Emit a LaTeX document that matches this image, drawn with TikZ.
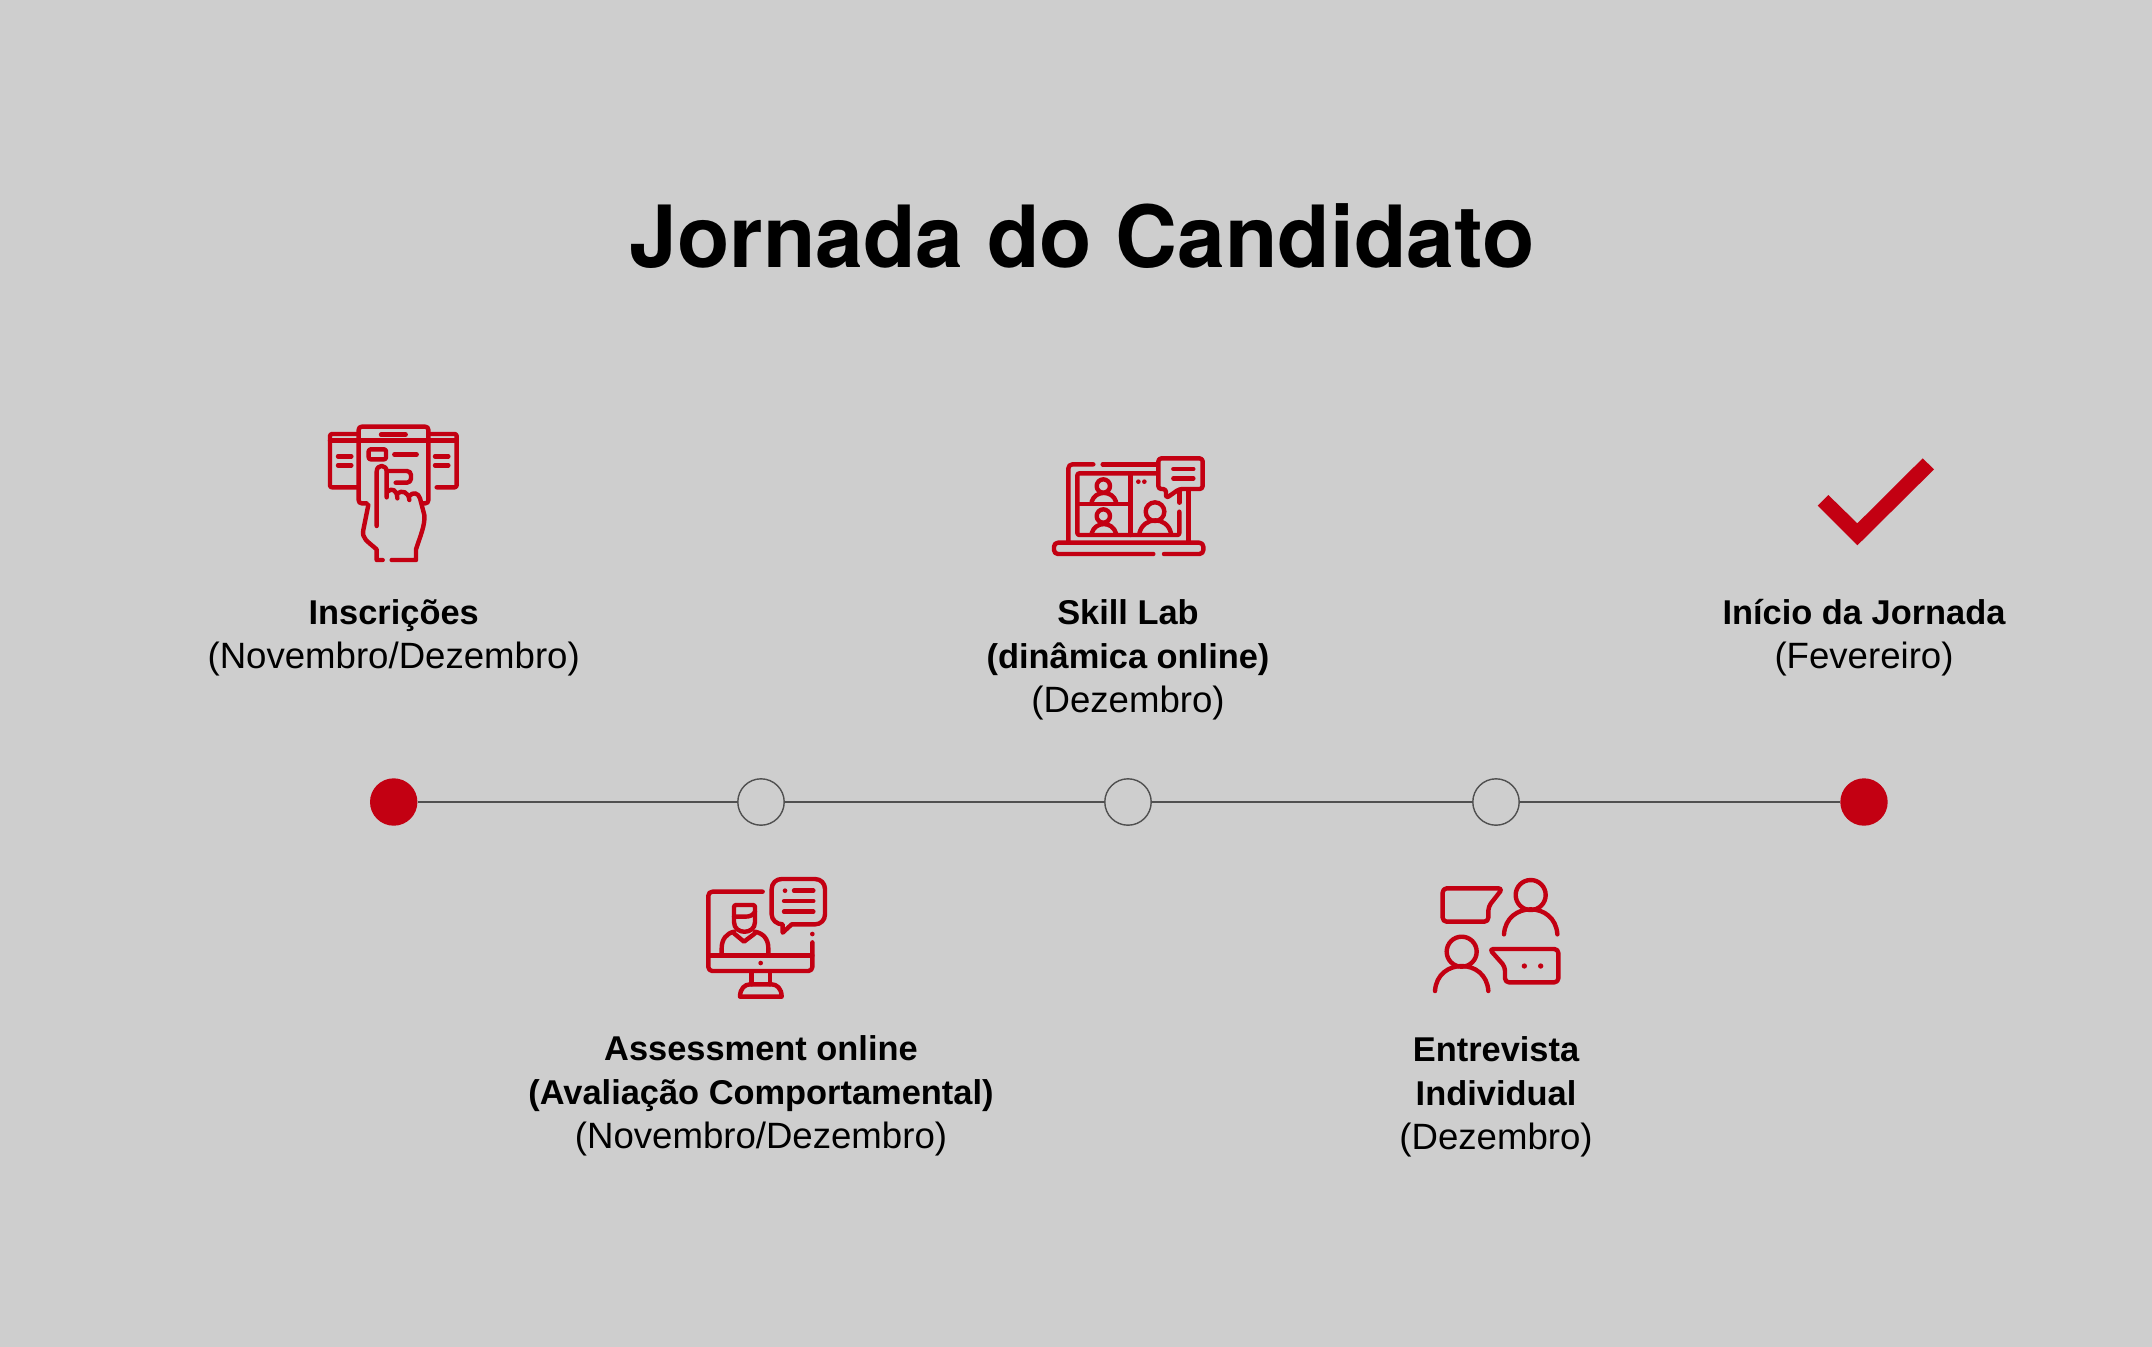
\documentclass[tikz,border=0pt]{standalone}
\usepackage{fontspec}
\setmainfont{Liberation Sans}
\newfontfamily\titlefont{TeX Gyre Heros}
\definecolor{bgc}{HTML}{CECECE}
\definecolor{redc}{HTML}{C30012}
\definecolor{linec}{HTML}{505050}
\newcommand\bt[1]{{\fontsize{17.2}{22}\selectfont\bfseries #1}}
\newcommand\fl{\rule{0pt}{17pt}}
\tikzset{
  px/.style={x=0.5pt,y=-0.5pt},
  icon/.style={shift={#1},x=0.16667pt,y=-0.16667pt,draw=redc,line width=2.2pt,line cap=round,line join=round},
  redpt/.style={circle,fill=redc,draw=none,minimum size=23.7pt,inner sep=0pt},
  holpt/.style={circle,draw=linec,line width=0.7pt,fill=none,minimum size=23.2pt,inner sep=0pt},
  conn/.style={draw=linec,line width=0.7pt},
  lab/.style={align=center,anchor=north,inner sep=0pt,font=\fontsize{18.3}{22}\selectfont},
  ttl/.style={anchor=center,inner sep=0pt,font=\titlefont\bfseries\fontsize{42.9}{50}\selectfont},
}
\begin{document}
\begin{tikzpicture}[px]
\useasboundingbox (0,0) rectangle (2152,1346);
\fill[bgc] (-6,-6) rectangle (2158,1352);
\node[ttl] (title) at (1082,236.5) {Jornada do Candidato};

% timeline
\node[redpt] (p1) at (393.7,802) {};
\node[holpt] (p2) at (761,802) {};
\node[holpt] (p3) at (1128,802) {};
\node[holpt] (p4) at (1496,802) {};
\node[redpt] (p5) at (1864,802) {};
\draw[conn] (p1) -- (p2);
\draw[conn] (p2) -- (p3);
\draw[conn] (p3) -- (p4);
\draw[conn] (p4) -- (p5);

% labels
\node[lab] (l1) at (393.7,590) {\fl\bt{Inscrições}\\(Novembro/Dezembro)};
\node[lab] (l3) at (1128,590) {\fl\bt{Skill Lab}\\\bt{(dinâmica online)}\\(Dezembro)};
\node[lab] (l5) at (1864,590) {\fl\bt{Início da Jornada}\\(Fevereiro)};
\node[lab] (l2) at (761,1026) {\fl\bt{Assessment online}\\\bt{(Avaliação Comportamental)}\\(Novembro/Dezembro)};
\node[lab] (l4) at (1496,1027) {\fl\bt{Entrevista}\\\bt{Individual}\\(Dezembro)};

% icon 1: form and hand
\begin{scope}[icon={(310,410)}]
\draw[rounded corners=1.5pt] (170,280) -- (146,280) -- (146,50) -- (355,50) -- (355,280) -- (335,280);
\draw (146,92) -- (355,92);
\draw[rounded corners=1pt] (146,72) -- (60,72) -- (60,232) -- (146,232);
\draw (60,92) -- (146,92);
\draw[rounded corners=1pt] (355,72) -- (440,72) -- (440,232) -- (380,232);
\draw (355,92) -- (440,92);
\draw (213,74) -- (287,74);
\draw (84,139) -- (124,139) (84,166) -- (124,166);
\draw (375,139) -- (415,139) (375,166) -- (415,166);
\draw[rounded corners=1pt] (176,118) -- (228,118) -- (228,148) -- (176,148) -- cycle;
\draw (253,133) -- (320,133);
\draw[rounded corners=2pt] (232,183) -- (303,183) -- (303,218) -- (257,218);
\draw (200,348) -- (200,185) .. controls (200,162) and (230,162) .. (230,185) -- (230,262);
\draw (232,245) .. controls (245,232) and (262,240) .. (262,265);
\draw (262,250) .. controls (275,240) and (296,245) .. (298,270);
\draw (298,258) .. controls (308,245) and (325,248) .. (330,265) -- (343,315) .. controls (346,345) and (330,380) .. (318,418) -- (318,450) -- (245,450);
\draw (175,285) -- (160,360) .. controls (155,385) and (170,392) .. (200,418) -- (200,450) -- (218,450);
\end{scope}

% icon 3: video call laptop
\begin{scope}[icon={(1040,440)}]
\draw[rounded corners=2pt] (160,73) -- (85,73) -- (85,305);
\draw (188,73) -- (350,73);
\draw (445,150) -- (445,305);
\draw[rounded corners=1pt] (350,100) -- (112,100) -- (112,285) -- (418,285) -- (418,215);
\draw (418,155) -- (418,188);
\draw (272,100) -- (272,285) (112,192) -- (272,192);
\fill[redc,draw=none] (295,125) circle (7) (313,125) circle (7);
\draw (190,138) circle (20);
\draw (155,185) .. controls (165,150) and (218,150) .. (228,185);
\draw (190,228) circle (20);
\draw (155,280) .. controls (165,243) and (218,243) .. (228,280);
\draw (345,215) circle (28);
\draw (298,280) .. controls (310,228) and (382,228) .. (393,280);
\draw[rounded corners=1.5pt] (355,55) -- (488,55) -- (488,147) -- (418,147) -- (378,175) -- (378,147) -- (355,147) -- cycle;
\draw (400,87) -- (460,87) (400,115) -- (460,115);
\draw[rounded corners=2pt] (340,342) -- (42,342) -- (42,308) -- (490,308) -- (490,342) -- (372,342);
\end{scope}

% icon 2: monitor
\begin{scope}[icon={(690,865)}]
\draw[rounded corners=2pt] (218,80) -- (55,80) -- (55,318) -- (367,318) -- (367,232);
\draw (55,272) -- (367,272);
\fill[redc,draw=none] (212,294) circle (7) (367,207) circle (7) (285,77) circle (7);
\draw (185,320) -- (185,358) (240,320) -- (240,358);
\draw (150,395) .. controls (150,370) and (165,358) .. (180,358) -- (245,358) .. controls (260,358) and (275,370) .. (275,395) -- cycle;
\draw (405,148) .. controls (405,165) and (392,178) .. (375,178) -- (305,178) -- (278,203) -- (278,178) .. controls (260,178) and (245,165) .. (245,148) -- (245,72) .. controls (245,55) and (258,42) .. (275,42) -- (375,42) .. controls (392,42) and (405,55) .. (405,72) -- cycle;
\draw (312,77) -- (370,77) (282,108) -- (370,108) (282,140) -- (370,140);
\draw[rounded corners=1pt] (132,120) -- (195,120) -- (195,165) .. controls (195,210) and (132,210) .. (132,165) -- cycle;
\draw (132,155) -- (165,155) .. controls (180,155) and (190,150) .. (195,140);
\draw (95,268) -- (95,250) .. controls (95,222) and (110,205) .. (132,200);
\draw (235,268) -- (235,250) .. controls (235,222) and (220,205) .. (195,200);
\draw (132,205) -- (162,230) -- (195,205);
\end{scope}

% icon 4: conversation
\begin{scope}[icon={(1420,865)}]
\draw[rounded corners=2pt] (68,70) -- (248,70) -- (205,125) -- (205,170) -- (68,170) -- cycle;
\draw (332,90) circle (45);
\draw (252,208) .. controls (258,108) and (406,108) .. (412,208);
\draw (125,260) circle (45);
\draw (45,378) .. controls (51,278) and (199,278) .. (205,378);
\draw[rounded corners=2pt] (208,252) -- (415,252) -- (415,352) -- (255,352) -- (255,305) -- cycle;
\fill[redc,draw=none] (313,303) circle (8) (362,303) circle (8);
\end{scope}

% icon 5: check mark
\begin{scope}[shift={(1800,440)},x=0.16667pt,y=-0.16667pt]
\fill[redc] (85,165) -- (172,250) -- (368,55) -- (402,88) -- (172,316) -- (53,197) -- cycle;
\end{scope}
\end{tikzpicture}
\end{document}
